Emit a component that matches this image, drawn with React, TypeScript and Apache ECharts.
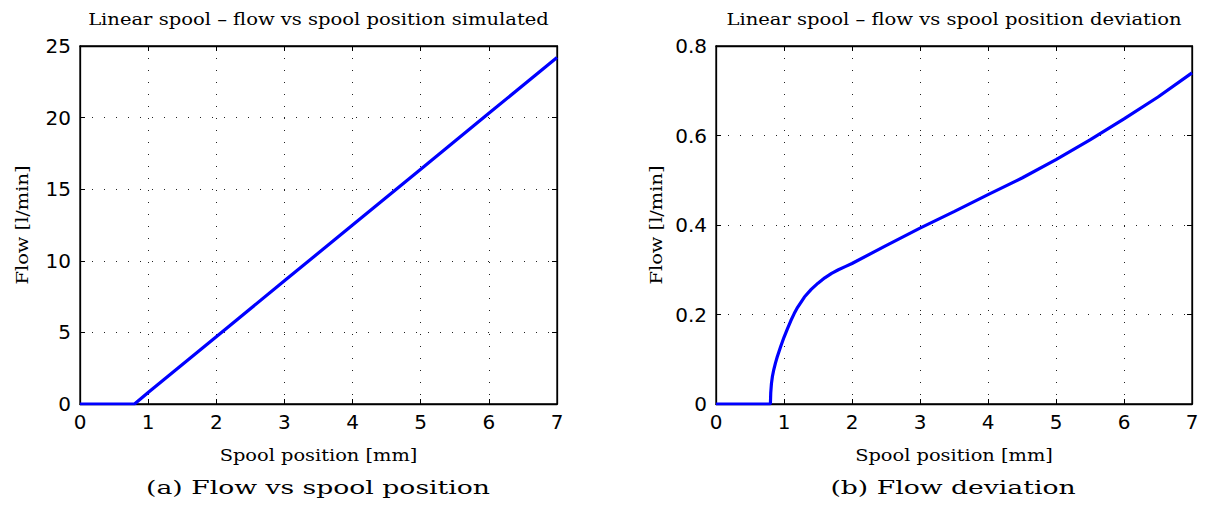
import React, { useEffect, useRef } from "react";
import * as echarts from "echarts";

const leftX = [0, 0.8, 1, 2, 3, 4, 5, 6, 7];
const leftY = [0, 0, 0.8, 4.7, 8.6, 12.5, 16.4, 20.3, 24.2];

const rightX = [0, 0.8, 0.805, 0.815, 0.83, 0.85, 0.875, 0.9, 0.95, 1.0, 1.05, 1.1, 1.15, 1.2, 1.3, 1.4, 1.5, 1.6, 1.7, 1.8, 1.9, 2.0, 2.5, 3, 3.5, 4, 4.5, 5, 5.5, 6, 6.5, 7];
const rightY = [0, 0, 0.025, 0.045, 0.062, 0.077, 0.092, 0.105, 0.128, 0.149, 0.168, 0.186, 0.202, 0.216, 0.239, 0.256, 0.27, 0.282, 0.292, 0.3, 0.307, 0.314, 0.354, 0.393, 0.43, 0.468, 0.505, 0.546, 0.59, 0.637, 0.686, 0.74];

const titles = ["Linear spool \u2013 flow vs spool position simulated", "Linear spool \u2013 flow vs spool position deviation"];
const captions = ["(a) Flow vs spool position", "(b) Flow deviation"];
const xName = "Spool position [mm]";
const yName = "Flow [l/min]";

const SERIF = "'DejaVu Serif', 'Liberation Serif', serif";
const SANS = "'DejaVu Sans', 'Liberation Sans', sans-serif";

export default function App() {
  const ref = useRef<HTMLDivElement>(null);
  useEffect(() => {
    if (!ref.current) return;
    const chart = echarts.init(ref.current, null, { renderer: "svg" });
    const grids = [
      { left: 80, top: 46, width: 477, height: 358 },
      { left: 716, top: 46, width: 476, height: 358 },
    ];
    const mkSplit = () => ({ show: true, lineStyle: { color: "#222", width: 1, type: [1, 11] as any } });
    const mkLine = () => ({ show: true, onZero: false, lineStyle: { color: "#000", width: 1.3 } });
    const mkTick = () => ({ show: true, inside: true, length: 5, lineStyle: { color: "#000", width: 1 } });
    const xAxes: any[] = [];
    const yAxes: any[] = [];
    const yMax = [25, 0.8];
    const yInt = [5, 0.2];
    [0, 1].forEach((i) => {
      xAxes.push({
        type: "value", gridIndex: i, min: 0, max: 7, interval: 1, position: "bottom",
        axisLine: mkLine(), axisTick: mkTick(), splitLine: mkSplit(),
        axisLabel: { color: "#000", fontFamily: SANS, fontSize: 20, margin: 8 },
      });
      xAxes.push({
        type: "value", gridIndex: i, min: 0, max: 7, interval: 1, position: "top",
        axisLine: mkLine(), axisTick: mkTick(), splitLine: { show: false }, axisLabel: { show: false },
      });
      yAxes.push({
        type: "value", gridIndex: i, min: 0, max: yMax[i], interval: yInt[i], position: "left",
        axisLine: mkLine(), axisTick: mkTick(), splitLine: mkSplit(),
        axisLabel: { color: "#000", fontFamily: SANS, fontSize: 20, margin: 9 },
      });
      yAxes.push({
        type: "value", gridIndex: i, min: 0, max: yMax[i], interval: yInt[i], position: "right",
        axisLine: mkLine(), axisTick: mkTick(), splitLine: { show: false }, axisLabel: { show: false },
      });
    });
    const graphics: any[] = [];
    [0, 1].forEach((i) => {
      const cx = grids[i].left + grids[i].width / 2;
      graphics.push({
        type: "text", x: cx, y: 19, scaleX: 1.15,
        style: { text: titles[i], fill: "#000", font: `17px ${SERIF}`, textAlign: "center", textVerticalAlign: "middle" },
      });
      graphics.push({
        type: "text", x: cx, y: 455, scaleX: 1.14,
        style: { text: xName, fill: "#000", font: `17px ${SERIF}`, textAlign: "center", textVerticalAlign: "middle" },
      });
      graphics.push({
        type: "text", x: i === 0 ? 22 : 656, y: 225, rotation: Math.PI / 2, scaleX: 1.14,
        style: { text: yName, fill: "#000", font: `17px ${SERIF}`, textAlign: "center", textVerticalAlign: "middle" },
      });
      graphics.push({
        type: "text", x: i === 0 ? 318 : 953, y: 488, scaleX: 1.48,
        style: { text: captions[i], fill: "#000", font: `18px ${SERIF}`, textAlign: "center", textVerticalAlign: "middle" },
      });
    });
    chart.setOption({
      animation: false,
      backgroundColor: "#fff",
      grid: grids.map((g) => ({ ...g, show: true, borderColor: "#000", borderWidth: 1.3, backgroundColor: "transparent" })),
      xAxis: xAxes,
      yAxis: yAxes,
      series: [
        {
          type: "line", xAxisIndex: 0, yAxisIndex: 0, showSymbol: false,
          data: leftX.map((x, k) => [x, leftY[k]]),
          lineStyle: { color: "#0000ff", width: 3.2 }, itemStyle: { color: "#0000ff" },
        },
        {
          type: "line", xAxisIndex: 2, yAxisIndex: 2, showSymbol: false,
          data: rightX.map((x, k) => [x, rightY[k]]),
          lineStyle: { color: "#0000ff", width: 3.2 }, itemStyle: { color: "#0000ff" },
        },
      ],
      graphic: graphics,
    });
    return () => chart.dispose();
  }, []);
  return <div ref={ref} style={{ position: "fixed", left: 0, top: 0, width: 1205, height: 509 }} />;
}
